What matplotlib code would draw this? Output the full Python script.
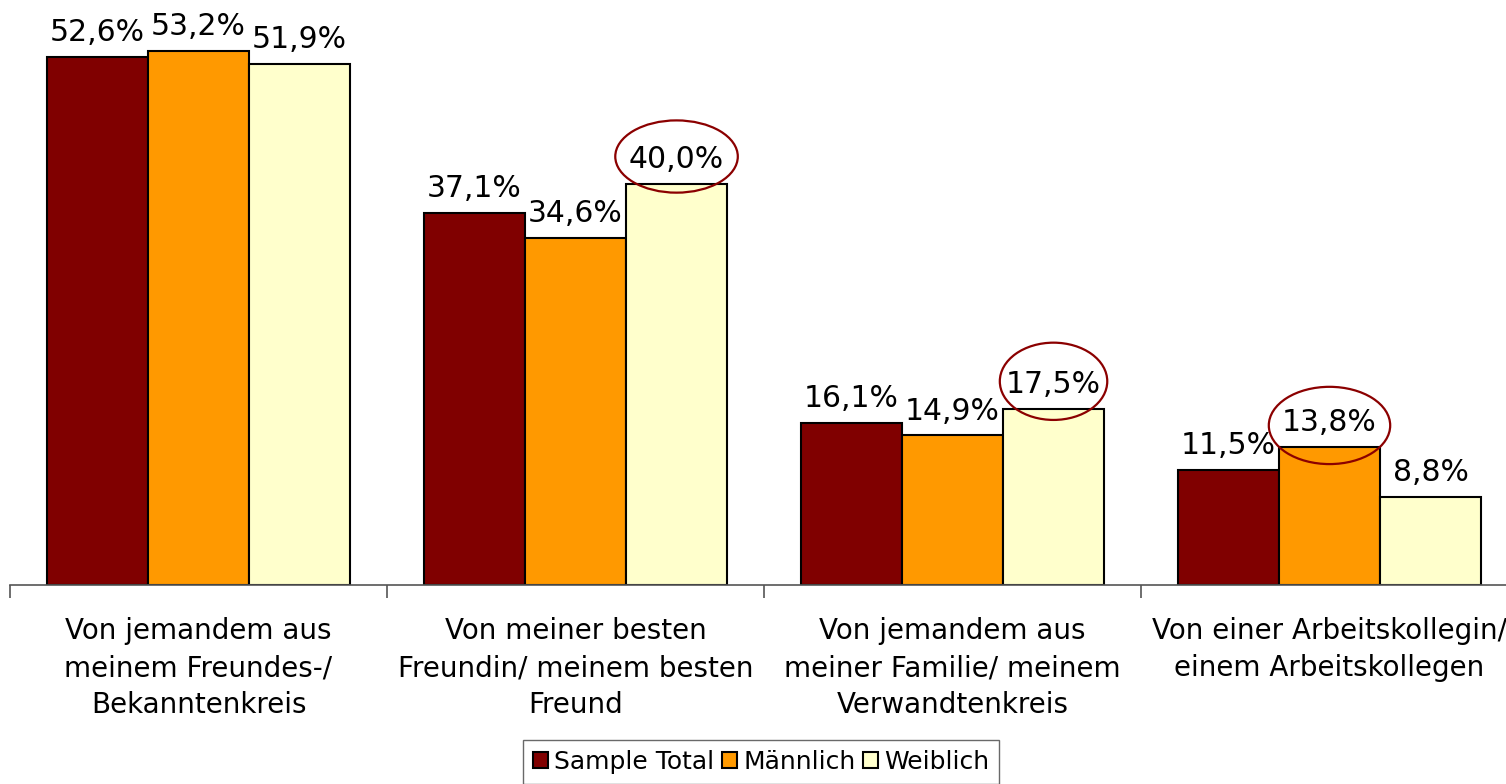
import matplotlib.pyplot as plt
import numpy as np
from matplotlib.patches import Ellipse

# chart data
categories = [
    "Von jemandem aus\nmeinem Freundes-/\nBekanntenkreis",
    "Von meiner besten\nFreundin/ meinem besten\nFreund",
    "Von jemandem aus\nmeiner Familie/ meinem\nVerwandtenkreis",
    "Von einer Arbeitskollegin/\neinem Arbeitskollegen",
]
series_names = ["Sample Total", "Männlich", "Weiblich"]
sample_total = [52.6, 37.1, 16.1, 11.5]
maennlich = [53.2, 34.6, 14.9, 13.8]
weiblich = [51.9, 40.0, 17.5, 8.8]

# bars that are circled in the original: (category index, series index)
highlights = [(1, 2), (2, 2), (3, 1)]

colors = ["#800000", "#FF9900", "#FFFFCC"]
ellipse_sizes = [(0.325, 7.2, 2.7), (0.285, 7.7, 2.8), (0.322, 7.7, 2.1)]

plt.rcParams['font.family'] = ['DejaVu Sans']

fig = plt.figure(figsize=(15.06, 7.84), dpi=100)
ax = fig.add_axes([10 / 1506, 199 / 784, 1508 / 1506, 582 / 784])

x = np.arange(len(categories))
width = 0.268
all_series = [sample_total, maennlich, weiblich]

for i, (vals, name, col) in enumerate(zip(all_series, series_names, colors)):
    xs = x + (i - 1) * width
    ax.bar(xs, vals, width, color=col, edgecolor="black", linewidth=1.5,
           label=name, zorder=2)
    for xi, v in zip(xs, vals):
        ax.annotate(f"{v:.1f}%".replace(".", ","), (xi, v),
                    xytext=(0, 11.5), textcoords="offset points",
                    ha="center", va="baseline", fontsize=21.5)

# red ellipses around the highlighted labels
for (ci, si), (w, h, dy) in zip(highlights, ellipse_sizes):
    v = all_series[si][ci]
    cx = x[ci] + (si - 1) * width
    ax.add_patch(Ellipse((cx, v + dy), w, h, fill=False,
                         edgecolor="#8B0000", linewidth=1.6, zorder=3,
                         clip_on=False))

ax.set_xlim(-0.5, 3.5)
ax.set_ylim(0, 58)

for s in ["top", "right", "left"]:
    ax.spines[s].set_visible(False)
ax.spines["bottom"].set_color("#555555")
ax.spines["bottom"].set_linewidth(1.2)
ax.set_yticks([])

ax.set_xticks(x)
ax.set_xticklabels(categories, fontsize=20, linespacing=1.42)
ax.tick_params(axis="x", which="major", length=0, pad=23)
ax.set_xticks(np.arange(-0.5, 4.0, 1.0), minor=True)
ax.tick_params(axis="x", which="minor", length=9, color="#555555", width=1.2)

leg = fig.legend(loc="upper center", bbox_to_anchor=(761 / 1506, 1 - 740 / 784),
                 ncol=3, fontsize=18, frameon=True, fancybox=False,
                 edgecolor="#444444", handlelength=0.6, handleheight=0.6,
                 handletextpad=0.25, columnspacing=0.3, borderpad=0.4,
                 borderaxespad=0)
leg.get_frame().set_linewidth(1.0)

fig.savefig("out.png", dpi=100)
